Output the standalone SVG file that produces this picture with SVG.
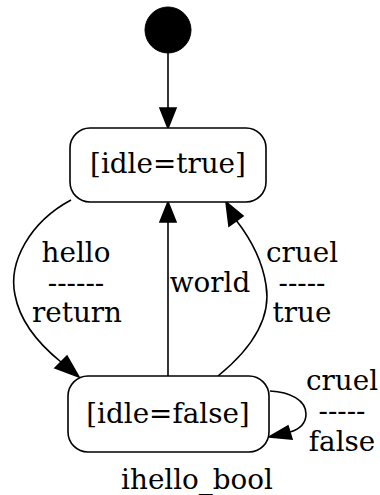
<svg xmlns="http://www.w3.org/2000/svg" width="380" height="495" viewBox="0 0 380 495">
<style>
text{font-family:"DejaVu Serif","Liberation Serif",serif;font-size:27.8px;fill:#000;text-anchor:middle}
.node{fill:#fff;stroke:#000;stroke-width:1.6}
.edge{fill:none;stroke:#000;stroke-width:1.6}
.head{fill:#000;stroke:#000;stroke-width:1.6}
</style>
<rect width="380" height="495" fill="#fff"/>
<g id="edges">
<path class="edge" d="M168,53 L168,108"/>
<polygon class="head" points="160,108 176,108 168,128"/>
<path class="edge" d="M71,200 C30,222 8,262 15,295 C20,322 40,345 61,362"/>
<polygon class="head" points="55,368 67,356 79,377"/>
<path class="edge" d="M168,376 L168,222"/>
<polygon class="head" points="160,222 176,222 168,202"/>
<path class="edge" d="M218,376 C250,350 272,320 266,285 C262,258 250,238 236,220"/>
<polygon class="head" points="229,226 243,216 226,202"/>
<path class="edge" d="M270,391 C290,392 306,400 306,414 C306,424 300,429 290,432"/>
<polygon class="head" points="288,426 292,439 269,437"/>
</g>
<g id="start"><circle cx="168" cy="30" r="23" fill="#000" stroke="#000"/></g>
<g id="idle_true">
<rect class="node" x="70" y="128" width="196" height="74" rx="20"/>
<text x="168" y="173">[idle=true]</text>
</g>
<g id="idle_false">
<rect class="node" x="68" y="376" width="201" height="76" rx="20"/>
<text x="168" y="423">[idle=false]</text>
</g>
<g id="labels">
<text x="76" y="262">hello</text>
<text x="76" y="292">------</text>
<text x="77" y="322">return</text>
<text x="210" y="292">world</text>
<text x="302" y="262">cruel</text>
<text x="302" y="292">-----</text>
<text x="302" y="322">true</text>
<text x="342" y="390">cruel</text>
<text x="342" y="420">-----</text>
<text x="342" y="451">false</text>
<text x="197" y="489">ihello_bool</text>
</g>
</svg>
